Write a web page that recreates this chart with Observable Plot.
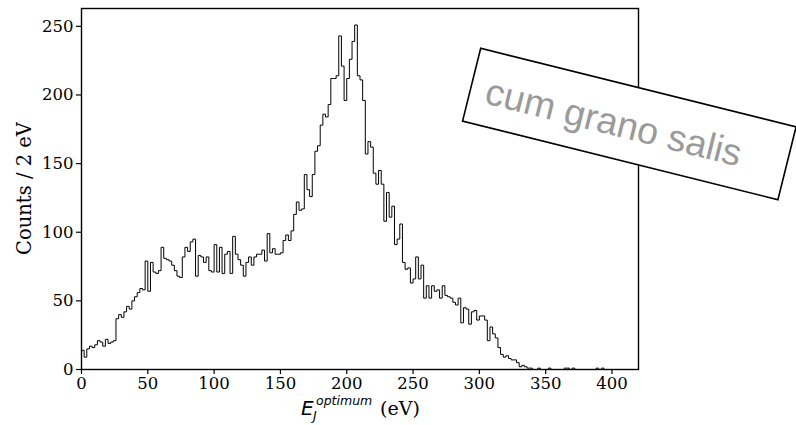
<!DOCTYPE html>
<html>
<head>
<meta charset="utf-8">
<script src="https://cdn.jsdelivr.net/npm/d3@7"></script>
<script src="https://cdn.jsdelivr.net/npm/@observablehq/plot@0.6"></script>
<style>
  html, body { margin: 0; padding: 0; background: #ffffff; }
  #chart svg { display: block; }
</style>
</head>
<body>
<div id="chart"></div>
<script>
// ---- data ----
const binStart = 0;      // eV
const binWidth = 2;      // eV per bin
const counts = [
  14, 9, 15, 17, 16, 18, 21, 20, 17, 22, 19, 20, 21,
  37, 40, 38, 42, 46, 44, 50, 53, 56, 59, 58, 79, 57, 78, 71, 70, 72, 89, 81,
  80, 79, 76, 72, 68, 67, 82, 89, 86, 93, 95, 68, 83, 82, 78, 82, 72, 71, 91, 71,
  89, 70, 84, 86, 70, 97, 84, 80, 76, 68, 78, 82,
  76, 82, 84, 84, 87, 79, 99, 85, 88, 84, 84, 85, 94, 98, 94, 101, 113, 122, 116, 117,
  142, 131, 126, 142, 159, 163,
  178, 186, 184, 193, 212, 212, 214, 243, 221, 196, 212, 226, 239, 251, 214, 211, 196, 157, 166, 162,
  143, 135, 145, 135,
  108, 129, 111, 119, 91, 95, 106, 78, 73, 74, 63, 66, 82, 66, 76, 52, 61, 52, 61, 57,
  58, 52, 61, 54, 53, 52, 49, 47,
  52, 34, 45, 44, 33, 42, 43, 36, 39, 39, 36, 21, 31, 26, 23, 16, 11, 9, 10, 8,
  7, 7, 5, 2, 3, 2, 1, 1,
  0, 0, 1, 0, 0, 0, 1, 0, 0, 0, 0, 0, 1, 1, 0, 1, 0, 0, 0, 0,
  0, 0, 0, 0, 1, 0, 1, 0, 0, 0
];
const xDomain = [0, 420];
const yDomain = [0, 263];
const xTicks = [0, 50, 100, 150, 200, 250, 300, 350, 400];
const yTicks = [0, 50, 100, 150, 200, 250];
const xLabelMain = "E";
const xLabelSub = "J";
const xLabelSup = "optimum";
const xLabelUnit = "(eV)";
const yLabel = "Counts / 2 eV";
const stampText = "cum grano salis";

// ---- step outline of the histogram ----
const nBins = counts.length;
const binEnd = binStart + nBins * binWidth;
const outline = [{x: binStart, y: 0}]
  .concat(counts.map((c, i) => ({x: binStart + i * binWidth, y: c})))
  .concat([{x: binEnd, y: counts[nBins - 1]}, {x: binEnd, y: 0}]);

const W = 796, H = 425;
const mL = 81, mR = 158, mT = 8, mB = 56;

const chart = Plot.plot({
  width: W,
  height: H,
  marginLeft: mL,
  marginRight: mR,
  marginTop: mT,
  marginBottom: mB,
  style: {fontFamily: "'DejaVu Serif', serif", fontSize: "16.5px", background: "#ffffff", color: "#000000", overflow: "hidden"},
  x: {domain: xDomain, label: null},
  y: {domain: yDomain, label: null},
  marks: [
    Plot.line(outline, {x: "x", y: "y", curve: "step-after", stroke: "#000000", strokeWidth: 1}),
    Plot.frame({stroke: "#000000", strokeWidth: 1.4}),
    Plot.axisX({ticks: xTicks, tickSize: 5, tickPadding: 3, stroke: "#000000", strokeWidth: 1.2, fill: "#000000", fontSize: 16.5, label: null}),
    Plot.axisY({ticks: yTicks, tickSize: 5, tickPadding: 3, stroke: "#000000", strokeWidth: 1.2, fill: "#000000", fontSize: 16.5, label: null})
  ]
});
document.getElementById("chart").appendChild(chart);

const svg = d3.select(chart);

// y axis title
svg.append("text")
  .attr("transform", `translate(31,${(mT + (H - mB)) / 2}) rotate(-90)`)
  .attr("text-anchor", "middle")
  .attr("font-family", "'DejaVu Serif', serif")
  .attr("font-size", 19.5)
  .attr("fill", "#000")
  .text(yLabel);

// x axis title: E_J^{optimum} (eV)
const xl = svg.append("g").attr("fill", "#000").attr("text-anchor", "start");
xl.append("text").attr("x", 301).attr("y", 415).attr("text-anchor", "start")
  .attr("font-family", "'DejaVu Sans', sans-serif").attr("font-style", "italic")
  .attr("font-size", 20).text(xLabelMain);
xl.append("text").attr("x", 313).attr("y", 420).attr("text-anchor", "start")
  .attr("font-family", "'DejaVu Sans', sans-serif").attr("font-style", "italic")
  .attr("font-size", 12.5).text(xLabelSub);
xl.append("text").attr("x", 316).attr("y", 405).attr("text-anchor", "start")
  .attr("font-family", "'DejaVu Sans', sans-serif").attr("font-style", "italic")
  .attr("font-size", 12.5).text(xLabelSup);
xl.append("text").attr("x", 380).attr("y", 415).attr("text-anchor", "start")
  .attr("font-family", "'DejaVu Serif', serif")
  .attr("font-size", 19).text(xLabelUnit);

// rotated stamp box
const stamp = svg.append("g").attr("transform", "translate(629.3,124) rotate(14)");
stamp.append("rect")
  .attr("x", -162.5).attr("y", -37.5).attr("width", 325).attr("height", 75)
  .attr("fill", "#ffffff").attr("stroke", "#000000").attr("stroke-width", 1.6);
stamp.append("text")
  .attr("x", -15.5).attr("y", 15)
  .attr("text-anchor", "middle")
  .attr("font-family", "'Liberation Sans', Arial, sans-serif")
  .attr("font-size", 37.5)
  .attr("fill", "#9a9a9a")
  .text(stampText);
</script>
</body>
</html>
